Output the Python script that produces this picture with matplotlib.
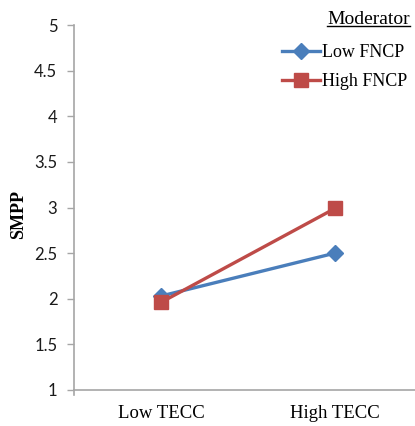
import matplotlib
matplotlib.use("Agg")
import matplotlib.pyplot as plt
from matplotlib.lines import Line2D

categories = ["Low TECC", "High TECC"]
low_fncp = [2.03, 2.50]
high_fncp = [1.96, 2.99]
series_names = ["Low FNCP", "High FNCP"]
yticks = [1, 1.5, 2, 2.5, 3, 3.5, 4, 4.5, 5]
ytick_labels = ["1", "1.5", "2", "2.5", "3", "3.5", "4", "4.5", "5"]

fig = plt.figure(figsize=(4.15, 4.26), dpi=100)
ax = fig.add_axes([74/415, 1-390/426, 348/415, 365/426])

x = list(range(len(categories)))
blue = "#4A7EBB"
red = "#BE4B48"
ax.plot(x, low_fncp, color=blue, lw=2.4, marker="D", ms=8.5, mec=blue, mfc=blue,
        label=series_names[0], zorder=3)
ax.plot(x, high_fncp, color=red, lw=2.4, marker="s", ms=10, mec=red, mfc=red,
        label=series_names[1], zorder=4)

ax.set_xlim(-0.5, 1.5)
ax.set_ylim(1, 5)
ax.set_yticks(yticks)
ax.set_yticklabels(ytick_labels, fontfamily="Lato", fontsize=12, color="#1a1a1a")
ax.set_xticks(x)
ax.set_xticklabels(categories, fontfamily="Liberation Serif", fontsize=13.5)
ax.tick_params(axis="x", length=0, pad=11)
ax.tick_params(axis="y", length=5, width=1, color="#A6A6A6", pad=7)

for s in ["top", "right"]:
    ax.spines[s].set_visible(False)
for s in ["left", "bottom"]:
    ax.spines[s].set_color("#A6A6A6")
    ax.spines[s].set_linewidth(1.2)

# small tick below the origin
ax.plot([-0.5, -0.5], [1, 1 - 5/91.25], color="#A6A6A6", lw=1.2, clip_on=False)

ax.set_ylabel("SMPP", fontfamily="Liberation Serif", fontsize=13, fontweight="bold")
ax.yaxis.set_label_coords(-0.135, 0.48)

t = fig.text(410/415, 1-19/426, "Moderator", ha="right", va="center",
             fontfamily="Liberation Serif", fontsize=14)

leg = fig.legend(loc="upper right", bbox_to_anchor=(414/415, 1-37/426), frameon=False,
                 prop={"family": "Liberation Serif", "size": 13}, handlelength=2.1,
                 handletextpad=0.1, labelspacing=0.68, borderaxespad=0)

fig.canvas.draw()
bb = t.get_window_extent().transformed(fig.transFigure.inverted())
uy = bb.y0 + 1.5/426
fig.add_artist(Line2D([bb.x0, bb.x1], [uy, uy], color="black", lw=1.0,
                      transform=fig.transFigure))

fig.savefig("out.png", dpi=100)
